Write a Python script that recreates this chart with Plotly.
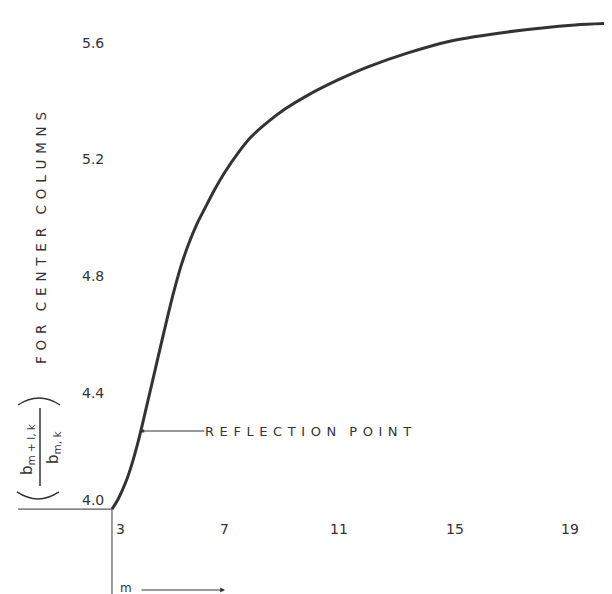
import plotly.graph_objects as go

# ---- data ----
m_values = [3.000, 3.174, 3.347, 3.521, 3.694, 3.868, 4.042, 4.424, 4.806, 5.118,
            5.396, 5.674, 5.951, 6.229, 6.576, 6.924, 7.375, 7.826, 8.417, 9.007,
            9.806, 10.847, 11.889, 13.278, 14.771, 16.750, 19.076, 20.639]
ratio_values = [4.000, 4.027, 4.062, 4.103, 4.155, 4.216, 4.285, 4.446, 4.608, 4.735,
                4.834, 4.913, 4.979, 5.033, 5.099, 5.157, 5.222, 5.277, 5.329, 5.373,
                5.421, 5.473, 5.518, 5.566, 5.607, 5.638, 5.662, 5.669]
x_ticks = [3, 7, 11, 15, 19]
x_tick_labels = ["3", "7", "11", "15", "19"]
y_ticks = [4.0, 4.4, 4.8, 5.2, 5.6]
y_tick_labels = ["4.0", "4.4", "4.8", "5.2", "5.6"]
reflection_m = 4.07
reflection_ratio = 4.268

# ---- styling ----
INK = "#333333"
AXIS = "#5a5a5a"
FONT = "DejaVu Sans"
X_RANGE = [-0.61, 20.64]
Y_RANGE = [3.681, 5.720]
AXIS_LEFT = -0.26
origin_x, origin_y = m_values[0], ratio_values[0]
GAP = "\u2004\u200a"
WORD_GAP = "\u2002\u2002"


def spaced(text):
    return WORD_GAP.join(GAP.join(w) for w in text.split(" "))


fig = go.Figure()

# axis lines (drawn as traces so they share the data scale)
fig.add_trace(go.Scatter(x=[AXIS_LEFT, origin_x], y=[origin_y, origin_y], mode="lines",
                         line=dict(color=AXIS, width=1.2), hoverinfo="skip"))
fig.add_trace(go.Scatter(x=[origin_x, origin_x], y=[origin_y, Y_RANGE[0]], mode="lines",
                         line=dict(color=AXIS, width=1.2), hoverinfo="skip"))

# curve
fig.add_trace(go.Scatter(x=m_values, y=ratio_values, mode="lines",
                         line=dict(color=INK, width=3, shape="spline", smoothing=0.8),
                         hoverinfo="skip"))

ann = []
for t, lab in zip(x_ticks, x_tick_labels):
    ann.append(dict(x=t, y=origin_y, xref="x", yref="y", text=lab, showarrow=False,
                    xanchor="center", yanchor="middle", yshift=-20,
                    xshift=9 if t == origin_x else -3,
                    font=dict(family=FONT, size=14, color=INK)))
for t, lab in zip(y_ticks, y_tick_labels):
    ann.append(dict(x=origin_x, y=t, xref="x", yref="y", text=lab, showarrow=False,
                    xanchor="right", yanchor="middle", xshift=-6,
                    yshift=9 if t == origin_y else 0,
                    font=dict(family=FONT, size=14, color=INK)))

# reflection point label with arrow
ann.append(dict(x=reflection_m, y=reflection_ratio, xref="x", yref="y",
                text=spaced("REFLECTION POINT"), showarrow=True,
                ax=165, ay=0, arrowhead=7, arrowsize=0.6, arrowwidth=1.2,
                arrowcolor=INK, xanchor="center", yanchor="middle", borderpad=0,
                font=dict(family=FONT, size=13, color=INK)))

# m axis label and arrow
ann.append(dict(x=118 / 612, y=1 - 580 / 594, xref="paper", yref="paper", text="m",
                showarrow=False, font=dict(family=FONT, size=12, color=INK),
                xanchor="center", yanchor="middle", borderpad=0))
ann.append(dict(x=217 / 612, y=1 - 582 / 594, xref="paper", yref="paper", text="",
                showarrow=True, ax=-85, ay=0, arrowhead=2,
                arrowsize=0.8, arrowwidth=1.2, arrowcolor=INK))

# y-axis title (rotated)
ann.append(dict(x=33 / 612, y=1 - 230 / 594, xref="paper", yref="paper",
                text=spaced("FOR CENTER COLUMNS"), textangle=-90,
                showarrow=False, xanchor="center", yanchor="middle",
                font=dict(family=FONT, size=13.5, color=INK)))
ann.append(dict(x=19 / 612, y=1 - 441 / 594, xref="paper", yref="paper",
                text="b<sub>m + l, k</sub>", textangle=-90, showarrow=False,
                xanchor="center", yanchor="middle",
                font=dict(family=FONT, size=15, color=INK)))
ann.append(dict(x=45 / 612, y=1 - 440 / 594, xref="paper", yref="paper",
                text="b<sub>m, k</sub>", textangle=-90, showarrow=False,
                xanchor="center", yanchor="middle",
                font=dict(family=FONT, size=15, color=INK)))


def px(xp, yp):
    return f"{xp / 612:.5f},{1 - yp / 594:.5f}"


shapes = [
    # fraction bar
    dict(type="line", xref="paper", yref="paper", x0=32 / 612, x1=32 / 612,
         y0=1 - 478 / 594, y1=1 - 400 / 594, line=dict(color=INK, width=1.5)),
    # bracket arcs (parentheses drawn as thin arcs)
    dict(type="path", xref="paper", yref="paper",
         path=f"M {px(9, 484)} Q {px(30, 498)} {px(51, 484)}",
         line=dict(color=INK, width=1.5)),
    dict(type="path", xref="paper", yref="paper",
         path=f"M {px(10, 397)} Q {px(31, 383)} {px(52, 397)}",
         line=dict(color=INK, width=1.5)),
]

fig.update_layout(
    width=612, height=594, autosize=False,
    margin=dict(l=0, r=0, t=0, b=0),
    paper_bgcolor="white", plot_bgcolor="white",
    showlegend=False,
    xaxis=dict(range=X_RANGE, visible=False, fixedrange=True),
    yaxis=dict(range=Y_RANGE, visible=False, fixedrange=True),
    annotations=ann, shapes=shapes,
)

fig.write_html("out.html")
